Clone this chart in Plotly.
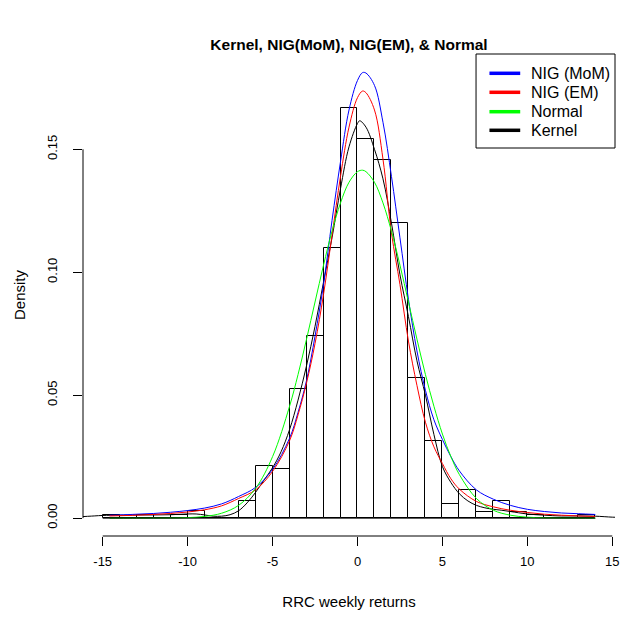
import plotly.graph_objects as go

# ---------------- data ----------------
bin_edges = list(range(-15, 15))  # -15 .. 14, width 1
bin_density = [0.0014, 0.0, 0.0013, 0.0, 0.0013, 0.0030, 0.0, 0.0, 0.0070, 0.0212,
               0.0201, 0.0525, 0.0741, 0.1098, 0.1667, 0.1541, 0.1457, 0.1199, 0.0571, 0.0315,
               0.0056, 0.0113, 0.0027, 0.0070, 0.0027, 0.0013, 0.0, 0.0, 0.0014]

kernel_x = [-16.5, -15.5, -15, -14, -13, -12, -11, -10, -9.5, -9, -8.5, -8, -7.5, -7, -6.5, -6,
            -5.5, -5, -4.5, -4, -3.5, -3, -2.5, -2, -1.5, -1, -0.5, 0, 0.13, 0.5, 1, 1.5, 2,
            2.5, 3, 3.5, 4, 4.5, 5, 5.5, 6, 6.5, 7, 7.5, 8, 8.5, 9, 10, 11, 12, 13, 14, 15, 15.5]
kernel_y = [0.0005, 0.0009, 0.0011, 0.0012, 0.0013, 0.0013, 0.0014, 0.0017, 0.0017, 0.0013,
            0.0008, 0.0008, 0.0014, 0.0030, 0.0062, 0.0105, 0.0155, 0.0205, 0.0270, 0.0360,
            0.0480, 0.0620, 0.0780, 0.0960, 0.1140, 0.1340, 0.1510, 0.1605, 0.1616, 0.1590,
            0.1500, 0.1380, 0.1200, 0.0990, 0.0820, 0.0640, 0.0500, 0.0340, 0.0210, 0.0145,
            0.0099, 0.0070, 0.0052, 0.0042, 0.0036, 0.0032, 0.0027, 0.0017, 0.0012, 0.0009,
            0.0009, 0.0008, 0.0004, 0.0003]

curve_x = [-14.6, -14, -13, -12, -11, -10, -9, -8, -7, -6, -5, -4, -3.5, -3, -2.5, -2, -1.5,
           -1, -0.5, 0, 0.3, 0.5, 1, 1.5, 2, 2.5, 3, 3.5, 4, 4.5, 5, 5.5, 6, 7, 8, 9, 10,
           11, 12, 13, 14]
nig_mom_y = [0.0012, 0.0013, 0.0016, 0.0019, 0.0024, 0.0031, 0.0041, 0.0058, 0.0088, 0.0125,
             0.0198, 0.0325, 0.0430, 0.0560, 0.0740, 0.0950, 0.1210, 0.1450, 0.1660, 0.1780,
             0.1812, 0.1810, 0.1760, 0.1610, 0.1390, 0.1140, 0.0890, 0.0680, 0.0520, 0.0400,
             0.0320, 0.0250, 0.0192, 0.0115, 0.0077, 0.0052, 0.0036, 0.0027, 0.0021, 0.0018,
             0.0015]
nig_em_y = [0.0009, 0.0010, 0.0012, 0.0015, 0.0019, 0.0025, 0.0034, 0.0050, 0.0080, 0.0115,
            0.0190, 0.0315, 0.0420, 0.0550, 0.0710, 0.0910, 0.1150, 0.1390, 0.1590, 0.1710,
            0.1737, 0.1730, 0.1660, 0.1460, 0.1160, 0.0950, 0.0720, 0.0540, 0.0390, 0.0290,
            0.0222, 0.0160, 0.0118, 0.0068, 0.0046, 0.0032, 0.0023, 0.0016, 0.0012, 0.0009,
            0.0007]
normal_y = [0.0000, 0.0000, 0.0000, 0.00001, 0.00005, 0.0002, 0.0007, 0.0020, 0.0052, 0.0121,
            0.0250, 0.0455, 0.0584, 0.0728, 0.0879, 0.1029, 0.1167, 0.1282, 0.1366, 0.1409,
            0.1415, 0.1409, 0.1366, 0.1282, 0.1167, 0.1029, 0.0879, 0.0728, 0.0584, 0.0455,
            0.0342, 0.0250, 0.0177, 0.0080, 0.0032, 0.0012, 0.0004, 0.0001, 0.00002, 0.0,
            0.0]

legend_names = ["NIG (MoM)", "NIG (EM)", "Normal", "Kernel"]
legend_colors = ["#0000FF", "#FF0000", "#00FF00", "#000000"]

x_ticks = [-15, -10, -5, 0, 5, 10, 15]
x_ticktext = ["-15", "-10", "-5", "0", "5", "10", "15"]
y_ticks = [0.0, 0.05, 0.10, 0.15]
y_ticktext = ["0.00", "0.05", "0.10", "0.15"]

# ---------------- figure ----------------
W, H = 627, 617
ML, MR, MT, MB = 83, 8, 54, 81
PW, PH = W - ML - MR, H - MT - MB

fig = go.Figure()
centers = [e + 0.5 for e in bin_edges[:-1]]
fig.add_trace(go.Bar(x=centers, y=bin_density, width=1,
                     marker=dict(color="white", line=dict(color="black", width=1)),
                     showlegend=False, hoverinfo="skip"))

fig.add_trace(go.Scatter(x=kernel_x, y=kernel_y, mode="lines", line_shape="spline",
                         line=dict(color="#000000", width=1), showlegend=False))
fig.add_trace(go.Scatter(x=curve_x, y=nig_mom_y, mode="lines", line_shape="spline",
                         line=dict(color="#0000FF", width=1), showlegend=False))
fig.add_trace(go.Scatter(x=curve_x, y=nig_em_y, mode="lines", line_shape="spline",
                         line=dict(color="#FF0000", width=1), showlegend=False))
fig.add_trace(go.Scatter(x=curve_x, y=normal_y, mode="lines", line_shape="spline",
                         line=dict(color="#00FF00", width=1), showlegend=False))

shapes = []
# histogram baseline
shapes.append(dict(type="line", xref="x", yref="y", x0=bin_edges[0], x1=bin_edges[-1],
                   y0=0, y1=0, line=dict(color="black", width=1)))
# axis lines (R style: from first to last tick)
shapes.append(dict(type="line", xref="x", yref="paper", x0=x_ticks[0], x1=x_ticks[-1],
                   y0=0, y1=0, line=dict(color="black", width=1)))
shapes.append(dict(type="line", xref="paper", yref="y", x0=0, x1=0,
                   y0=y_ticks[0], y1=y_ticks[-1], line=dict(color="black", width=1)))

def px2paper_x(px):
    return (px - ML) / PW

def px2paper_y(py):
    return (H - MB - py) / PH

# legend box
shapes.append(dict(type="rect", xref="paper", yref="paper",
                   x0=px2paper_x(479), x1=1.0, y0=px2paper_y(148), y1=1.0,
                   line=dict(color="black", width=1), fillcolor="white", layer="above"))
annotations = []
rows = [73.3, 92.3, 111.7, 130.3]
for name, col, ry in zip(legend_names, legend_colors, rows):
    shapes.append(dict(type="line", xref="paper", yref="paper",
                       x0=px2paper_x(492.5), x1=px2paper_x(523.5),
                       y0=px2paper_y(ry), y1=px2paper_y(ry),
                       line=dict(color=col, width=3.5), layer="above"))
    annotations.append(dict(xref="paper", yref="paper", x=px2paper_x(532), y=px2paper_y(ry),
                            xanchor="left", yanchor="middle", showarrow=False, text=name,
                            font=dict(size=16, color="black",
                                      family="Liberation Sans, Arial, sans-serif")))

fig.update_layout(
    width=W, height=H,
    margin=dict(l=ML, r=MR, t=MT, b=MB, pad=0),
    paper_bgcolor="white", plot_bgcolor="white",
    font=dict(family="Liberation Sans, Arial, sans-serif", color="black"),
    title=dict(text="<b>Kernel, NIG(MoM), NIG(EM), &amp; Normal</b>",
               x=0.5, xref="paper", xanchor="center",
               y=1 - 45 / H, yref="container", yanchor="middle",
               font=dict(size=15.5, color="black")),
    bargap=0,
    shapes=shapes,
    annotations=annotations,
    showlegend=False,
    xaxis=dict(range=[-16.16, 15.16], tickvals=x_ticks, ticktext=x_ticktext,
               ticks="outside", ticklen=9, tickwidth=1, tickcolor="black",
               showline=False, showgrid=False, zeroline=False,
               tickfont=dict(size=13), ticklabelstandoff=4,
               title=dict(text="RRC weekly returns", font=dict(size=15), standoff=28)),
    yaxis=dict(range=[-0.00726, 0.18876], tickvals=y_ticks, ticktext=y_ticktext,
               ticks="outside", ticklen=9, tickwidth=1, tickcolor="black",
               showline=False, showgrid=False, zeroline=False, tickangle=-90,
               tickfont=dict(size=13), ticklabelstandoff=11,
               title=dict(text="Density", font=dict(size=15), standoff=15)),
)

fig.write_html("out.html")
